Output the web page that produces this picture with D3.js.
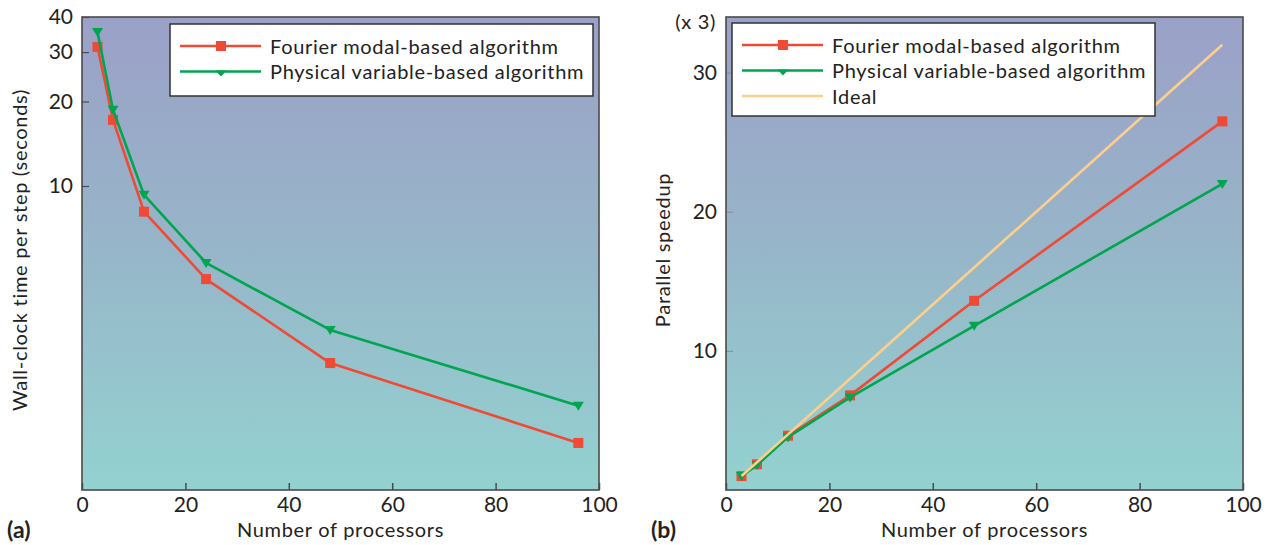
<!DOCTYPE html>
<html>
<head>
<meta charset="utf-8">
<script src="https://cdn.jsdelivr.net/npm/d3@7"></script>
<style>
  body { margin: 0; background: #fff; }
  svg { font-family: Lato, "Noto Sans", sans-serif; }
</style>
</head>
<body>
<svg id="chart" width="1274" height="545"></svg>
<script>
const svg = d3.select('#chart');

// Data
const processors = [3, 6, 12, 24, 48, 96];
const timeFourier = [31.3, 17.2, 8.1, 4.66, 2.34, 1.215];
const timePhysical = [35.4, 18.7, 9.3, 5.32, 3.07, 1.65];
const speedFourier = [1, 1.85, 3.9, 6.8, 13.6, 26.5];
const speedPhysical = [1, 1.8, 3.8, 6.65, 11.8, 22.0];
const speedIdeal = processors.map(p => p / 3);

const xTicks = [0, 20, 40, 60, 80, 100];
const timeTicks = [10, 20, 30, 40];
const speedTicks = [10, 20, 30];

const seriesNames = ['Fourier modal-based algorithm', 'Physical variable-based algorithm', 'Ideal'];
const colors = { fourier: '#ef4a36', physical: '#00a54f', ideal: '#fdcf8c' };

// gradient background
const defs = svg.append('defs');
const grad = defs.append('linearGradient')
    .attr('id', 'bg')
    .attr('x1', 0).attr('y1', 0).attr('x2', 0).attr('y2', 1);
grad.append('stop').attr('offset', '0%').attr('stop-color', '#9ba0c7');
grad.append('stop').attr('offset', '50%').attr('stop-color', '#97b6c9');
grad.append('stop').attr('offset', '100%').attr('stop-color', '#93d2d0');

const plotTop = 17, plotBottom = 490;
const frameColor = '#4a4a4a';
const textColor = '#222';
const tickSize = 21;
const labelSize = 20;
const spacing = '0.7px';

const drawPanel = (opts) => {
    const g = svg.append('g');
    const x = d3.scaleLinear().domain([0, 100]).range([opts.left, opts.right]);
    const y = opts.y;

    g.append('rect')
        .attr('x', opts.left).attr('y', plotTop)
        .attr('width', opts.right - opts.left).attr('height', plotBottom - plotTop)
        .attr('fill', 'url(#bg)');

    // x axis
    const xAxis = d3.axisBottom(x).tickValues(xTicks).tickSize(-7).tickPadding(7);
    const xg = g.append('g').attr('transform', `translate(0, ${plotBottom})`).call(xAxis);
    xg.select('.domain').remove();
    xg.selectAll('line').attr('stroke', frameColor).attr('stroke-width', 1.5);
    xg.selectAll('text').attr('font-size', tickSize).attr('fill', textColor)
        .attr('font-family', 'Lato, sans-serif');

    // y axis
    const yAxis = d3.axisLeft(y).tickValues(opts.yTicks).tickSize(-7).tickPadding(9)
        .tickFormat(d3.format('d'));
    const yg = g.append('g').attr('transform', `translate(${opts.left}, 0)`).call(yAxis);
    yg.select('.domain').remove();
    yg.selectAll('line').attr('stroke', opts.yTickColor).attr('stroke-width', 1.2);
    yg.selectAll('text').attr('font-size', tickSize).attr('fill', textColor)
        .attr('font-family', 'Lato, sans-serif');

    // frame
    g.append('rect')
        .attr('x', opts.left).attr('y', plotTop)
        .attr('width', opts.right - opts.left).attr('height', plotBottom - plotTop)
        .attr('fill', 'none').attr('stroke', frameColor).attr('stroke-width', 1.6);

    const line = d3.line().x(d => x(d[0])).y(d => y(d[1]));

    opts.series.forEach(s => {
        const pts = processors.map((p, i) => [p, s.values[i]]);
        g.append('path')
            .attr('d', line(pts))
            .attr('fill', 'none')
            .attr('stroke', s.color)
            .attr('stroke-width', 2.6)
            .attr('stroke-linejoin', 'round');
        if (s.marker === 'square') {
            g.selectAll(null).data(pts).enter().append('rect')
                .attr('x', d => x(d[0]) - 5).attr('y', d => y(d[1]) - 5)
                .attr('width', 10).attr('height', 10)
                .attr('fill', s.color);
        } else if (s.marker === 'triangle') {
            g.selectAll(null).data(pts).enter().append('path')
                .attr('d', d => `M${x(d[0]) - 5.5},${y(d[1]) - 4} L${x(d[0]) + 5.5},${y(d[1]) - 4} L${x(d[0])},${y(d[1]) + 5} Z`)
                .attr('fill', s.color);
        }
    });

    // legend
    const lg = g.append('g');
    lg.append('rect')
        .attr('x', opts.legend.x).attr('y', opts.legend.y)
        .attr('width', opts.legend.w).attr('height', opts.legend.h)
        .attr('fill', '#fff').attr('stroke', '#333').attr('stroke-width', 1.5);
    opts.series.forEach((s, i) => {
        const ly = opts.legend.y + 22 + i * 25.5;
        const lx = opts.legend.x + 10;
        lg.append('line')
            .attr('x1', lx).attr('x2', lx + 81)
            .attr('y1', ly).attr('y2', ly)
            .attr('stroke', s.color).attr('stroke-width', 2.6);
        if (s.marker === 'square') {
            lg.append('rect').attr('x', lx + 36).attr('y', ly - 5)
                .attr('width', 10).attr('height', 10).attr('fill', s.color);
        } else if (s.marker === 'triangle') {
            lg.append('path')
                .attr('d', `M${lx + 35.5},${ly - 1} L${lx + 46.5},${ly - 1} L${lx + 41},${ly + 5} Z`)
                .attr('fill', s.color);
        }
        lg.append('text')
            .attr('x', lx + 90).attr('y', ly + 7.5)
            .attr('font-size', labelSize).attr('letter-spacing', spacing).attr('fill', textColor)
            .text(s.name);
    });

    // labels
    g.append('text')
        .attr('x', (opts.left + opts.right) / 2).attr('y', 536.5)
        .attr('text-anchor', 'middle').attr('font-size', labelSize)
        .attr('letter-spacing', spacing).attr('fill', textColor)
        .text('Number of processors');
    g.append('text')
        .attr('transform', `translate(${opts.yLabelX}, 250) rotate(-90)`)
        .attr('text-anchor', 'middle').attr('font-size', labelSize)
        .attr('letter-spacing', spacing).attr('fill', textColor)
        .text(opts.yLabel);
    g.append('text')
        .attr('x', opts.left - 75).attr('y', 538)
        .attr('font-size', 23).attr('font-weight', 'bold').attr('fill', '#222')
        .text(opts.tag);
};

drawPanel({
    left: 82, right: 599,
    y: d3.scaleLog().domain([0.826, 40]).range([plotBottom, plotTop]),
    yTicks: timeTicks,
    yTickColor: frameColor,
    yLabel: 'Wall-clock time per step (seconds)',
    yLabelX: 27,
    tag: '(a)',
    legend: { x: 170, y: 24, w: 423, h: 72 },
    series: [
        { name: seriesNames[0], values: timeFourier, color: colors.fourier, marker: 'square' },
        { name: seriesNames[1], values: timePhysical, color: colors.physical, marker: 'triangle' }
    ]
});

drawPanel({
    left: 726, right: 1243,
    y: d3.scaleLinear().domain([0, 34]).range([plotBottom, plotTop]),
    yTicks: speedTicks,
    yTickColor: '#8a8f9a',
    yLabel: 'Parallel speedup',
    yLabelX: 670,
    tag: '(b)',
    legend: { x: 732, y: 23, w: 423, h: 93 },
    series: [
        { name: seriesNames[0], values: speedFourier, color: colors.fourier, marker: 'square' },
        { name: seriesNames[1], values: speedPhysical, color: colors.physical, marker: 'triangle' },
        { name: seriesNames[2], values: speedIdeal, color: colors.ideal, marker: 'none' }
    ]
});

svg.append('text')
    .attr('x', 716).attr('y', 29)
    .attr('text-anchor', 'end').attr('font-size', labelSize)
    .attr('letter-spacing', spacing).attr('fill', textColor)
    .text('(x 3)');
</script>
</body>
</html>
